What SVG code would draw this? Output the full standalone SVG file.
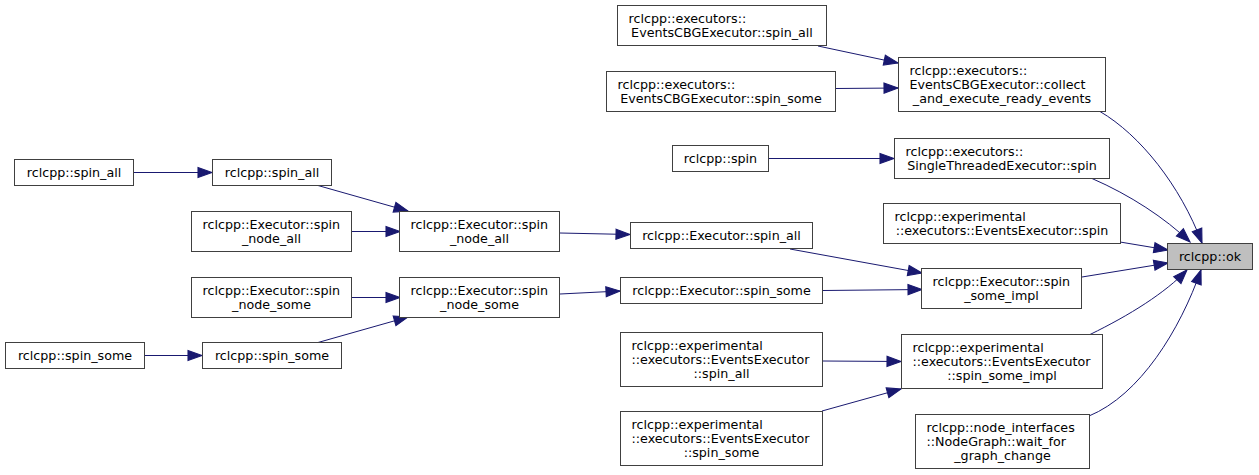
<svg xmlns="http://www.w3.org/2000/svg" width="1259" height="475" viewBox="0 0 1259 475">
<style>
.n rect{fill:#ffffff;stroke:#404040;stroke-width:1}
.n.hl rect{fill:#bfbfbf}
.n text{font-family:"DejaVu Sans",sans-serif;font-size:12.7px;fill:#000000}
.l{text-anchor:start}
.c{text-anchor:middle}
.e path{fill:none;stroke:#191970;stroke-width:1;marker-end:url(#arr)}
</style>
<defs>
<marker id="arr" markerWidth="14" markerHeight="11" refX="13" refY="4.7" orient="auto" markerUnits="userSpaceOnUse" viewBox="0 0 13 9.4" overflow="visible">
<path d="M0,0 L13,4.7 L0,9.4 z" fill="#191970" stroke="#191970" stroke-width="1"/>
</marker>
</defs>
<rect width="1259" height="475" fill="#ffffff"/>
<g id="edges" class="e">
<path d="M818,46 L898,63"/>
<path d="M836,88.5 L898,88"/>
<path d="M769,158.5 L894,158.5"/>
<path d="M1100,111.5 C1140,135 1180,185 1202,243"/>
<path d="M1092,178.5 C1130,195 1165,218 1190,242"/>
<path d="M1120,242 L1168,250"/>
<path d="M1082,277 L1168,263"/>
<path d="M1090,334.5 C1130,315 1165,293 1187,270"/>
<path d="M1089,416 C1140,395 1180,330 1201,270"/>
<path d="M134,172.5 L212,172.5"/>
<path d="M318,185.5 L408,211"/>
<path d="M352,231.5 L400,231.5"/>
<path d="M352,297.5 L400,297.5"/>
<path d="M318,342.5 L408,317"/>
<path d="M145,355.5 L202,355.5"/>
<path d="M560,233 L630,234.5"/>
<path d="M560,294 L620,291"/>
<path d="M790,249 L922,273"/>
<path d="M823,290.5 L922,289.5"/>
<path d="M823,361 L901,361.5"/>
<path d="M822,411 L901,389"/>
</g>
<g id="n_ok" class="n hl"><rect x="1167.5" y="243.5" width="85" height="26"/><text class="c" x="1210" y="261">rclcpp::ok</text></g>
<g id="n_collect" class="n"><rect x="898.5" y="57.5" width="207" height="54"/><text class="l" x="909.5" y="75">rclcpp::executors::</text><text class="l" x="909.5" y="89">EventsCBGExecutor::collect</text><text class="c" x="1002" y="103">_and_execute_ready_events</text></g>
<g id="n_cbg_spin_all" class="n"><rect x="617.5" y="5.5" width="209" height="40"/><text class="l" x="628.5" y="23">rclcpp::executors::</text><text class="c" x="722" y="37">EventsCBGExecutor::spin_all</text></g>
<g id="n_cbg_spin_some" class="n"><rect x="606.5" y="71.5" width="229" height="40"/><text class="l" x="617.5" y="89">rclcpp::executors::</text><text class="c" x="721" y="103">EventsCBGExecutor::spin_some</text></g>
<g id="n_single_spin" class="n"><rect x="894.5" y="138.5" width="215" height="40"/><text class="l" x="905.5" y="156">rclcpp::executors::</text><text class="c" x="1002" y="170">SingleThreadedExecutor::spin</text></g>
<g id="n_spin" class="n"><rect x="672.5" y="145.5" width="96" height="26"/><text class="c" x="720.5" y="163">rclcpp::spin</text></g>
<g id="n_ee_spin" class="n"><rect x="883.5" y="203.5" width="237" height="40"/><text class="l" x="894.5" y="221">rclcpp::experimental</text><text class="c" x="1002" y="235">::executors::EventsExecutor::spin</text></g>
<g id="n_exec_spin_some_impl" class="n"><rect x="921.5" y="268.5" width="160" height="40"/><text class="l" x="932.5" y="286">rclcpp::Executor::spin</text><text class="c" x="1001.5" y="300">_some_impl</text></g>
<g id="n_ee_spin_some_impl" class="n"><rect x="901.5" y="334.5" width="201" height="54"/><text class="l" x="912.5" y="352">rclcpp::experimental</text><text class="l" x="912.5" y="366">::executors::EventsExecutor</text><text class="c" x="1002" y="380">::spin_some_impl</text></g>
<g id="n_wait_for_graph_change" class="n"><rect x="915.5" y="414.5" width="174" height="54"/><text class="l" x="926.5" y="432">rclcpp::node_interfaces</text><text class="l" x="926.5" y="446">::NodeGraph::wait_for</text><text class="c" x="1002.5" y="460">_graph_change</text></g>
<g id="n_exec_spin_all" class="n"><rect x="630.5" y="222.5" width="182" height="26"/><text class="c" x="721.5" y="240">rclcpp::Executor::spin_all</text></g>
<g id="n_exec_spin_some" class="n"><rect x="620.5" y="277.5" width="202" height="26"/><text class="c" x="721.5" y="295">rclcpp::Executor::spin_some</text></g>
<g id="n_ee_spin_all" class="n"><rect x="620.5" y="332.5" width="202" height="54"/><text class="l" x="631.5" y="350">rclcpp::experimental</text><text class="l" x="631.5" y="364">::executors::EventsExecutor</text><text class="c" x="721.5" y="378">::spin_all</text></g>
<g id="n_ee_spin_some" class="n"><rect x="620.5" y="411.5" width="202" height="54"/><text class="l" x="631.5" y="429">rclcpp::experimental</text><text class="l" x="631.5" y="443">::executors::EventsExecutor</text><text class="c" x="721.5" y="457">::spin_some</text></g>
<g id="n_spin_node_all_m" class="n"><rect x="399.5" y="211.5" width="160" height="40"/><text class="l" x="410.5" y="229">rclcpp::Executor::spin</text><text class="c" x="479.5" y="243">_node_all</text></g>
<g id="n_spin_node_some_m" class="n"><rect x="399.5" y="277.5" width="160" height="40"/><text class="l" x="410.5" y="295">rclcpp::Executor::spin</text><text class="c" x="479.5" y="309">_node_some</text></g>
<g id="n_spin_node_all_l" class="n"><rect x="191.5" y="211.5" width="160" height="40"/><text class="l" x="202.5" y="229">rclcpp::Executor::spin</text><text class="c" x="271.5" y="243">_node_all</text></g>
<g id="n_spin_node_some_l" class="n"><rect x="191.5" y="277.5" width="160" height="40"/><text class="l" x="202.5" y="295">rclcpp::Executor::spin</text><text class="c" x="271.5" y="309">_node_some</text></g>
<g id="n_spin_all_2" class="n"><rect x="212.5" y="159.5" width="119" height="26"/><text class="c" x="272" y="177">rclcpp::spin_all</text></g>
<g id="n_spin_all_1" class="n"><rect x="14.5" y="159.5" width="119" height="26"/><text class="c" x="74" y="177">rclcpp::spin_all</text></g>
<g id="n_spin_some_2" class="n"><rect x="202.5" y="342.5" width="139" height="26"/><text class="c" x="272" y="360">rclcpp::spin_some</text></g>
<g id="n_spin_some_1" class="n"><rect x="5.5" y="342.5" width="139" height="26"/><text class="c" x="75" y="360">rclcpp::spin_some</text></g>
</svg>
